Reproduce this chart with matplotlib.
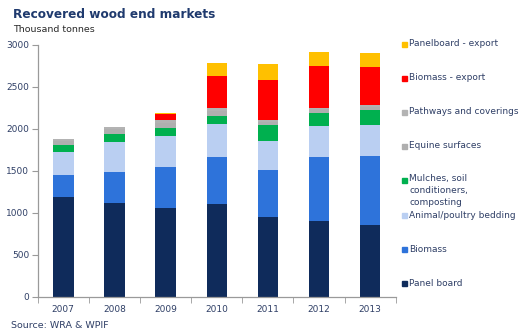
import numpy as np
import matplotlib
matplotlib.use("Agg")
import matplotlib.pyplot as plt

# Recovered wood end markets, thousand tonnes
years = ["2007", "2008", "2009", "2010", "2011", "2012", "2013"]

panel_board = [1194, 1123, 1060, 1111, 952, 901, 853]
biomass = [255, 369, 492, 556, 560, 770, 826]
bedding = [281, 357, 369, 389, 345, 365, 365]
mulches = [84, 91, 95, 95, 191, 158, 182]
equine = [45, 60, 61, 65, 40, 40, 40]
pathways = [22, 28, 30, 30, 19, 20, 20]
biomass_export = [0, 0, 68, 381, 476, 496, 456]
panelboard_export = [0, 0, 19, 155, 187, 167, 163]

series = [
    ("Panel board", panel_board, "#0f2b5b"),
    ("Biomass", biomass, "#2e73da"),
    ("Animal/poultry bedding", bedding, "#bacff2"),
    ("Mulches, soil\nconditioners,\ncomposting", mulches, "#00b04f"),
    ("Equine surfaces", equine, "#afafaf"),
    ("Pathways and coverings", pathways, "#b3b3b3"),
    ("Biomass - export", biomass_export, "#ff0000"),
    ("Panelboard - export", panelboard_export, "#ffc000"),
]

text_col = "#2f3f66"
axis_col = "#9a9a9a"

fig = plt.figure(figsize=(5.32, 3.36), dpi=100)
ax = fig.add_axes([0.0709, 0.1161, 0.6731, 0.75])

x = np.arange(len(years))
bottom = np.zeros(len(years))
for name, vals, col in series:
    ax.bar(x, vals, 0.4, bottom=bottom, color=col, edgecolor="none")
    bottom += np.array(vals)

ax.set_xlim(-0.5, len(years) - 0.5)
ax.set_ylim(0, 3000)
ax.set_yticks(range(0, 3001, 500))
ax.set_xticks(x)
ax.set_xticklabels(years)
ax.set_xticks(np.arange(-0.5, len(years)), minor=True)
ax.tick_params(axis="x", which="major", length=0, pad=6, labelsize=6.5, labelcolor=text_col)
ax.tick_params(axis="x", which="minor", length=4, color=axis_col, direction="out")
ax.tick_params(axis="y", length=4, color=axis_col, labelsize=6.5, labelcolor=text_col, pad=2)
for s in ["top", "right"]:
    ax.spines[s].set_visible(False)
for s in ["left", "bottom"]:
    ax.spines[s].set_color(axis_col)
    ax.spines[s].set_linewidth(0.9)

# legend drawn as a column of squares and labels on the right
legend_rows = [
    ("Panelboard - export", "#ffc000", 44),
    ("Biomass - export", "#ff0000", 78),
    ("Pathways and coverings", "#b3b3b3", 112),
    ("Equine surfaces", "#afafaf", 146),
    ("Mulches, soil\nconditioners,\ncomposting", "#00b04f", 180),
    ("Animal/poultry bedding", "#bacff2", 215),
    ("Biomass", "#2e73da", 249),
    ("Panel board", "#0f2b5b", 283),
]
W, H = 532, 336
for label, col, yp in legend_rows:
    fig.patches.append(plt.Rectangle((401.5 / W, 1 - (yp + 2.5) / H), 5 / W, 5 / H,
                                     transform=fig.transFigure, color=col))
    if "\n" in label:
        fig.text(409 / W, 1 - (yp - 5.5) / H, label, fontsize=6.5, color=text_col,
                 va="top", ha="left", linespacing=1.4)
    else:
        fig.text(409 / W, 1 - yp / H, label, fontsize=6.5, color=text_col,
                 va="center", ha="left")

fig.text(13 / W, 1 - 15 / H, "Recovered wood end markets", fontsize=8.7,
         fontweight="bold", color="#1f3a6e", va="center", ha="left")
fig.text(13 / W, 1 - 30 / H, "Thousand tonnes", fontsize=6.8, color="#2a2a2a",
         va="center", ha="left")
fig.text(11 / W, 1 - 325 / H, "Source: WRA & WPIF", fontsize=6.8, color=text_col,
         va="center", ha="left")

fig.savefig("out.png", dpi=100)
